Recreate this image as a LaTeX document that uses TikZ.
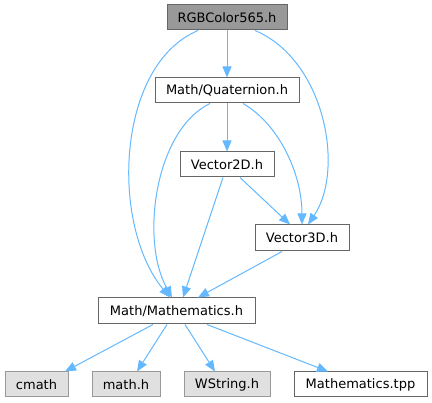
\documentclass[tikz,border=0pt]{standalone}
\usepackage{fontspec}
\setmainfont{DejaVu Sans}
\usetikzlibrary{arrows.meta}
\definecolor{edgec}{HTML}{63B8FF}
\definecolor{darkb}{HTML}{666666}
\definecolor{lightb}{HTML}{999999}
\definecolor{grayfill}{HTML}{E0E0E0}
\definecolor{rootfill}{HTML}{999999}
\tikzset{
  file/.style={draw=darkb, fill=white, line width=1pt, inner sep=0pt, minimum height=25pt, font=\fontsize{13}{15}\selectfont},
  rootfile/.style={file, fill=rootfill},
  sysfile/.style={file, draw=lightb, fill=grayfill},
  inc/.style={draw=edgec, line width=1pt, -{Triangle[length=11pt,width=9pt]}},
}
\begin{document}
\begin{tikzpicture}[x=1pt,y=-1pt]
\useasboundingbox (0,0) rectangle (432,403);
\node[rootfile, minimum width=120pt] (rgb) at (227,17.5) {RGBColor565.h};
\node[file, minimum width=144pt] (quat) at (227,90.5) {Math/Quaternion.h};
\node[file, minimum width=94pt] (v2) at (227,164.5) {Vector2D.h};
\node[file, minimum width=94pt, minimum height=26pt] (v3) at (302,238) {Vector3D.h};
\node[file, minimum width=157pt, minimum height=26pt] (math) at (176.5,311) {Math/Mathematics.h};
\node[sysfile, minimum width=63pt] (cmath) at (36.5,384.5) {cmath};
\node[sysfile, minimum width=68pt] (mathh) at (126,384.5) {math.h};
\node[sysfile, minimum width=86pt] (wstr) at (227,384.5) {WString.h};
\node[file, minimum width=133pt] (tpp) at (360.5,384.5) {Mathematics.tpp};

\draw[inc] (rgb.south) -- (quat.north);
\draw[inc] ([xshift=-29pt]rgb.south) .. controls (116,65) and (110,225) .. ([xshift=-6.5pt]math.north);
\draw[inc] ([xshift=28pt]rgb.south) .. controls (325,60) and (345,170) .. ([xshift=6pt]v3.north);
\draw[inc] (quat.south) -- (v2.north);
\draw[inc] ([xshift=-17pt]quat.south) .. controls (155,130) and (140,240) .. ([xshift=-4.5pt]math.north);
\draw[inc] ([xshift=16pt]quat.south) .. controls (280,125) and (302,175) .. (v3.north);
\draw[inc] ([xshift=-4pt]v2.south) -- ([xshift=6.5pt]math.north);
\draw[inc] ([xshift=13pt]v2.south) -- ([xshift=-12pt]v3.north);
\draw[inc] ([xshift=-20pt]v3.south) -- ([xshift=21.5pt]math.north);
\draw[inc] ([xshift=-23.5pt]math.south) -- ([xshift=28.5pt]cmath.north);
\draw[inc] ([xshift=-9.5pt]math.south) -- ([xshift=11pt]mathh.north);
\draw[inc] ([xshift=8.5pt]math.south) -- ([xshift=-12pt]wstr.north);
\draw[inc] ([xshift=30.5pt]math.south) -- ([xshift=-32.5pt]tpp.north);
\end{tikzpicture}
\end{document}
